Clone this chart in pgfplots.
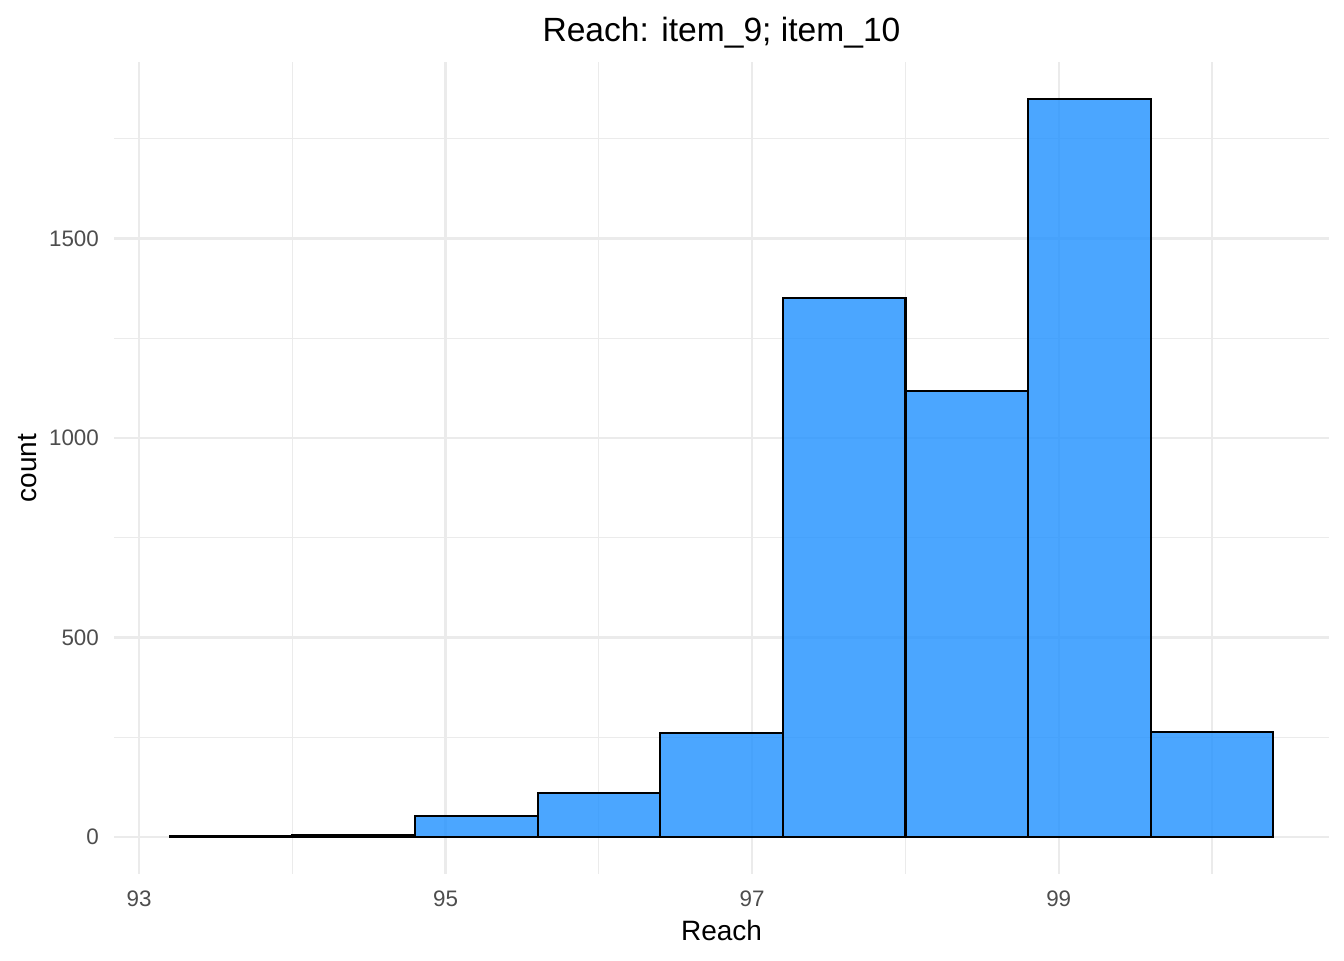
\documentclass[border=0pt]{standalone}
\usepackage{fontspec}
\setmainfont{Liberation Sans}
\usepackage{pgfplots}
\pgfplotsset{compat=1.18}

\definecolor{barfill}{HTML}{1E90FF}
\definecolor{gridgray}{HTML}{EBEBEB}
\definecolor{ticktext}{HTML}{4D4D4D}

\begin{document}
\begin{tikzpicture}
% page = 1344x960 px at 0.5pt per px
\path[use as bounding box] (-57.25pt,-43pt) rectangle (614.75pt,437pt);

\begin{axis}[
    at={(0,0)}, anchor=south west,
    scale only axis,
    width=607pt, height=406pt,
    xmin=92.84, xmax=100.76,
    ymin=-92.5, ymax=1942.5,
    axis line style={draw=none},
    tick style={draw=none},
    major tick length=0pt, minor tick length=0pt,
    xtick={93,95,97,99}, minor xtick={94,96,98,100},
    ytick={0,500,1000,1500}, minor ytick={250,750,1250,1750},
    grid=both,
    major grid style={gridgray, line width=1.1pt},
    minor grid style={gridgray, line width=0.55pt},
    /pgf/number format/assume math mode=true,
    /pgf/number format/1000 sep={},
    scaled ticks=false,
    tick label style={font=\fontsize{11.2}{13}\selectfont, text=ticktext},
    xticklabel style={anchor=base, inner sep=0pt, yshift=-16.3pt},
    yticklabel style={anchor=east, inner sep=0pt, xshift=-7.6pt},
]

% histogram, bin width 0.8
\addplot[ybar interval, fill=barfill, fill opacity=0.8, draw=black, line width=1.05pt] coordinates {
(93.2, 2)
(94.0, 6)
(94.8, 53)
(95.6, 110)
(96.4, 261)
(97.2, 1351)
(98.0, 1118)
(98.8, 1850)
(99.6, 263)
(100.4, 263)
};

\end{axis}

\node[font=\fontsize{16.8}{20}\selectfont, anchor=base] at (303.5pt,416pt) {Reach: item\_9; item\_10};
\node[font=\fontsize{14}{17}\selectfont, anchor=base] at (303.5pt,-33pt) {Reach};
\node[font=\fontsize{14}{17}\selectfont, anchor=base, rotate=90] at (-38.9pt,203pt) {count};
\end{tikzpicture}
\end{document}
